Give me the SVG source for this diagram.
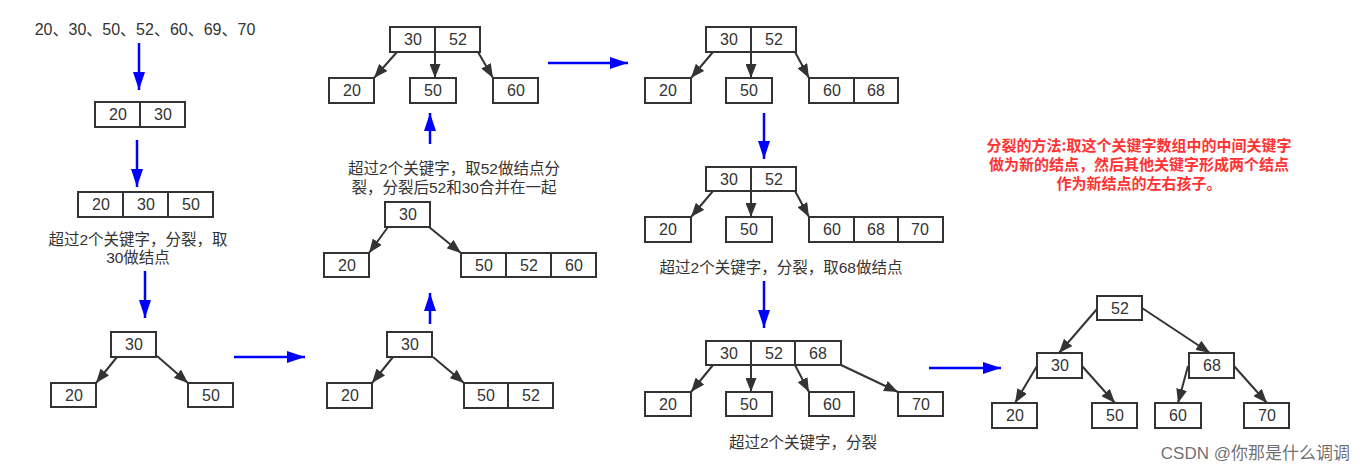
<svg xmlns="http://www.w3.org/2000/svg" width="1365" height="474" viewBox="0 0 1365 474">
<style>
.c{fill:#fff;stroke:#333;stroke-width:2}
.d{stroke:#333;stroke-width:2}
.t{font-family:"Liberation Sans","Noto Sans CJK SC",sans-serif;font-size:16px;fill:#333;text-anchor:middle}
.l{font-family:"Liberation Sans","Noto Sans CJK SC",sans-serif;font-size:15.5px;fill:#333;text-anchor:middle}
.r{font-family:"Noto Sans CJK SC",sans-serif;font-size:15px;font-weight:bold;fill:#ff3333;text-anchor:middle}
.b{stroke:#0000ff;stroke-width:2.5;fill:none;marker-end:url(#ab)}
.k{stroke:#333;stroke-width:2;fill:none;marker-end:url(#ak)}
</style>
<defs>
<marker id="ab" markerUnits="userSpaceOnUse" markerWidth="18" markerHeight="12" refX="18" refY="6" orient="auto"><path d="M0,0 L18,6 L0,12 z" fill="#0000ff"/></marker>
<marker id="ak" markerUnits="userSpaceOnUse" markerWidth="14" markerHeight="11" refX="14" refY="5.5" orient="auto"><path d="M0,0 L14,5.5 L0,11 z" fill="#333"/></marker>
</defs>
<rect width="1365" height="474" fill="#fff"/>

<g id="sequence"><text class="t" x="145" y="35">20、30、50、52、60、69、70</text></g>

<g id="s1-n2030"><rect class="c" x="95" y="102" width="90" height="25"/><line class="d" x1="140" y1="102" x2="140" y2="127"/><text class="t" x="118" y="120">20</text><text class="t" x="163" y="120">30</text></g>
<g id="s1-n203050"><rect class="c" x="78" y="192" width="135" height="25"/><line class="d" x1="123" y1="192" x2="123" y2="217"/><line class="d" x1="168" y1="192" x2="168" y2="217"/><text class="t" x="101" y="210">20</text><text class="t" x="146" y="210">30</text><text class="t" x="191" y="210">50</text></g>
<g id="label1"><text class="l" x="138" y="245">超过2个关键字，分裂，取</text><text class="l" x="138" y="263">30做结点</text></g>

<g id="s2-root"><rect class="c" x="111" y="332" width="45" height="25"/><text class="t" x="134" y="350">30</text></g>
<g id="s2-c20"><rect class="c" x="51" y="383" width="45" height="24"/><text class="t" x="74" y="401">20</text></g>
<g id="s2-c50"><rect class="c" x="188" y="383" width="45" height="24"/><text class="t" x="211" y="401">50</text></g>

<g id="s3-root"><rect class="c" x="387" y="332" width="45" height="25"/><text class="t" x="410" y="350">30</text></g>
<g id="s3-c20"><rect class="c" x="327" y="383" width="45" height="25"/><text class="t" x="350" y="401">20</text></g>
<g id="s3-c5052"><rect class="c" x="464" y="383" width="89" height="25"/><line class="d" x1="508" y1="383" x2="508" y2="408"/><text class="t" x="486" y="401">50</text><text class="t" x="531" y="401">52</text></g>

<g id="s4-root"><rect class="c" x="385" y="202" width="45" height="25"/><text class="t" x="408" y="220">30</text></g>
<g id="s4-c20"><rect class="c" x="324" y="253" width="45" height="24"/><text class="t" x="347" y="271">20</text></g>
<g id="s4-c505260"><rect class="c" x="461" y="253" width="135" height="24"/><line class="d" x1="506" y1="253" x2="506" y2="277"/><line class="d" x1="551" y1="253" x2="551" y2="277"/><text class="t" x="484" y="271">50</text><text class="t" x="529" y="271">52</text><text class="t" x="574" y="271">60</text></g>
<g id="label2"><text class="l" x="454" y="174">超过2个关键字，取52做结点分</text><text class="l" x="454" y="193">裂，分裂后52和30合并在一起</text></g>

<g id="s5-root"><rect class="c" x="390" y="27" width="90" height="25"/><line class="d" x1="435" y1="27" x2="435" y2="52"/><text class="t" x="413" y="45">30</text><text class="t" x="458" y="45">52</text></g>
<g id="s5-c20"><rect class="c" x="329" y="78" width="45" height="25"/><text class="t" x="352" y="96">20</text></g>
<g id="s5-c50"><rect class="c" x="410" y="78" width="46" height="25"/><text class="t" x="433" y="96">50</text></g>
<g id="s5-c60"><rect class="c" x="493" y="78" width="45" height="25"/><text class="t" x="516" y="96">60</text></g>

<g id="s6-root"><rect class="c" x="706" y="27" width="90" height="25"/><line class="d" x1="751" y1="27" x2="751" y2="52"/><text class="t" x="729" y="45">30</text><text class="t" x="774" y="45">52</text></g>
<g id="s6-c20"><rect class="c" x="645" y="78" width="46" height="25"/><text class="t" x="668" y="96">20</text></g>
<g id="s6-c50"><rect class="c" x="726" y="78" width="46" height="25"/><text class="t" x="749" y="96">50</text></g>
<g id="s6-c6068"><rect class="c" x="809" y="78" width="89" height="25"/><line class="d" x1="854" y1="78" x2="854" y2="103"/><text class="t" x="832" y="96">60</text><text class="t" x="876" y="96">68</text></g>

<g id="s7-root"><rect class="c" x="706" y="167" width="90" height="24"/><line class="d" x1="751" y1="167" x2="751" y2="191"/><text class="t" x="729" y="185">30</text><text class="t" x="774" y="185">52</text></g>
<g id="s7-c20"><rect class="c" x="645" y="217" width="46" height="25"/><text class="t" x="668" y="235">20</text></g>
<g id="s7-c50"><rect class="c" x="726" y="217" width="46" height="25"/><text class="t" x="749" y="235">50</text></g>
<g id="s7-c606870"><rect class="c" x="809" y="217" width="134" height="25"/><line class="d" x1="854" y1="217" x2="854" y2="242"/><line class="d" x1="898" y1="217" x2="898" y2="242"/><text class="t" x="832" y="235">60</text><text class="t" x="876" y="235">68</text><text class="t" x="920" y="235">70</text></g>
<g id="label3"><text class="l" x="781" y="273">超过2个关键字，分裂，取68做结点</text></g>

<g id="s8-root"><rect class="c" x="706" y="341" width="135" height="24"/><line class="d" x1="751" y1="341" x2="751" y2="365"/><line class="d" x1="795" y1="341" x2="795" y2="365"/><text class="t" x="729" y="359">30</text><text class="t" x="774" y="359">52</text><text class="t" x="818" y="359">68</text></g>
<g id="s8-c20"><rect class="c" x="645" y="392" width="46" height="24"/><text class="t" x="668" y="410">20</text></g>
<g id="s8-c50"><rect class="c" x="726" y="392" width="46" height="24"/><text class="t" x="749" y="410">50</text></g>
<g id="s8-c60"><rect class="c" x="809" y="392" width="45" height="24"/><text class="t" x="832" y="410">60</text></g>
<g id="s8-c70"><rect class="c" x="898" y="392" width="45" height="24"/><text class="t" x="921" y="410">70</text></g>
<g id="label4"><text class="l" x="803" y="448">超过2个关键字，分裂</text></g>

<g id="f-52"><rect class="c" x="1097" y="296" width="45" height="24"/><text class="t" x="1120" y="314">52</text></g>
<g id="f-30"><rect class="c" x="1037" y="353" width="45" height="25"/><text class="t" x="1060" y="371">30</text></g>
<g id="f-68"><rect class="c" x="1189" y="353" width="45" height="25"/><text class="t" x="1212" y="371">68</text></g>
<g id="f-20"><rect class="c" x="992" y="403" width="45" height="25"/><text class="t" x="1015" y="421">20</text></g>
<g id="f-50"><rect class="c" x="1092" y="403" width="45" height="25"/><text class="t" x="1115" y="421">50</text></g>
<g id="f-60"><rect class="c" x="1155" y="403" width="46" height="25"/><text class="t" x="1178" y="421">60</text></g>
<g id="f-70"><rect class="c" x="1244" y="403" width="45" height="25"/><text class="t" x="1267" y="421">70</text></g>

<g id="note"><text class="r" x="1139" y="151">分裂的方法:取这个关键字数组中的中间关键字</text><text class="r" x="1139" y="170">做为新的结点，然后其他关键字形成两个结点</text><text class="r" x="1139" y="189">作为新结点的左右孩子。</text></g>

<g id="connectors">
<line class="b" x1="139" y1="43" x2="139" y2="90"/>
<line class="b" x1="137" y1="140" x2="137" y2="187"/>
<line class="b" x1="145" y1="271" x2="145" y2="318"/>
<line class="b" x1="234" y1="357" x2="305" y2="357"/>
<line class="b" x1="430" y1="324" x2="430" y2="293"/>
<line class="b" x1="430" y1="144" x2="430" y2="113"/>
<line class="b" x1="548" y1="63" x2="628" y2="63"/>
<line class="b" x1="764" y1="113" x2="764" y2="159"/>
<line class="b" x1="764" y1="281" x2="764" y2="328"/>
<line class="b" x1="929" y1="368" x2="1001" y2="368"/>

<line class="k" x1="117" y1="357" x2="96" y2="383"/>
<line class="k" x1="157" y1="356" x2="188" y2="383"/>
<line class="k" x1="393" y1="357" x2="372" y2="383"/>
<line class="k" x1="433" y1="357" x2="464" y2="383"/>
<line class="k" x1="388" y1="227" x2="369" y2="253"/>
<line class="k" x1="429" y1="227" x2="461" y2="253"/>
<line class="k" x1="397" y1="52" x2="374" y2="78"/>
<line class="k" x1="435" y1="52" x2="435" y2="78"/>
<line class="k" x1="478" y1="52" x2="493" y2="78"/>
<line class="k" x1="713" y1="52" x2="691" y2="78"/>
<line class="k" x1="751" y1="52" x2="751" y2="78"/>
<line class="k" x1="795" y1="52" x2="809" y2="78"/>
<line class="k" x1="713" y1="191" x2="691" y2="217"/>
<line class="k" x1="751" y1="191" x2="751" y2="217"/>
<line class="k" x1="795" y1="191" x2="809" y2="217"/>
<line class="k" x1="713" y1="365" x2="691" y2="392"/>
<line class="k" x1="751" y1="365" x2="751" y2="392"/>
<line class="k" x1="795" y1="365" x2="809" y2="392"/>
<line class="k" x1="841" y1="365" x2="898" y2="392"/>
<line class="k" x1="1097" y1="309" x2="1059" y2="353"/>
<line class="k" x1="1142" y1="308" x2="1210" y2="353"/>
<line class="k" x1="1037" y1="366" x2="1015" y2="403"/>
<line class="k" x1="1082" y1="366" x2="1115" y2="403"/>
<line class="k" x1="1188" y1="366" x2="1178" y2="403"/>
<line class="k" x1="1234" y1="366" x2="1267" y2="403"/>
</g>

<g id="watermark"><text x="1350" y="459" text-anchor="end" font-family="'Liberation Sans','Noto Sans CJK SC',sans-serif" font-size="17" fill="#555" fill-opacity="0.85">CSDN @你那是什么调调</text></g>
</svg>
